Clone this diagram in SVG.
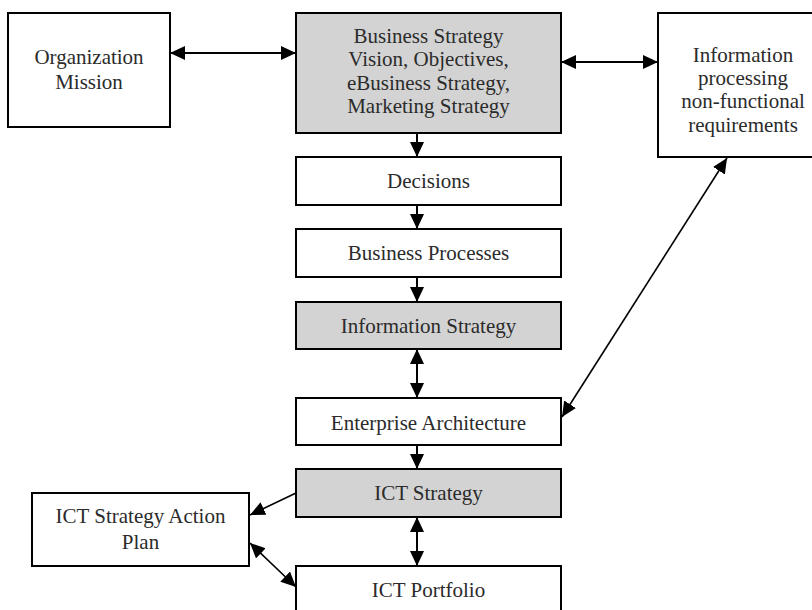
<svg xmlns="http://www.w3.org/2000/svg" width="812" height="610" viewBox="0 0 812 610">
<defs>
<style>
.box{fill:#ffffff;stroke:#000000;stroke-width:2}
.gray{fill:#d3d3d3;stroke:#000000;stroke-width:2}
.t{font-family:"Liberation Serif","Times New Roman",serif;font-size:21px;fill:#2b2b2b;text-anchor:middle}
.c{stroke:#000000;stroke-width:2;fill:none}
.d{stroke:#000000;stroke-width:1.6;fill:none}
</style>
<marker id="ah" markerUnits="userSpaceOnUse" markerWidth="15" markerHeight="15" viewBox="0 0 15 15" refX="15" refY="7" orient="auto-start-reverse">
<path d="M0,0 L15,7 L0,14 z" fill="#000000"/>
</marker>
</defs>
<rect width="812" height="610" fill="#ffffff"/>
<g id="connectors">
<line class="c" x1="170" y1="53" x2="296" y2="53" marker-start="url(#ah)" marker-end="url(#ah)"/>
<line class="c" x1="561" y1="62" x2="658" y2="62" marker-start="url(#ah)" marker-end="url(#ah)"/>
<line class="c" x1="417" y1="133" x2="417" y2="157" marker-end="url(#ah)"/>
<line class="c" x1="417" y1="205" x2="417" y2="229" marker-end="url(#ah)"/>
<line class="c" x1="417" y1="277" x2="417" y2="302" marker-end="url(#ah)"/>
<line class="c" x1="417" y1="349" x2="417" y2="398" marker-start="url(#ah)" marker-end="url(#ah)"/>
<line class="c" x1="417" y1="445" x2="417" y2="469" marker-end="url(#ah)"/>
<line class="c" x1="417" y1="517" x2="417" y2="566" marker-start="url(#ah)" marker-end="url(#ah)"/>
<line class="d" x1="727" y1="158" x2="562" y2="417" marker-start="url(#ah)" marker-end="url(#ah)"/>
<line class="d" x1="296" y1="493" x2="250" y2="515" marker-end="url(#ah)"/>
<line class="d" x1="250" y1="543" x2="296" y2="587" marker-start="url(#ah)" marker-end="url(#ah)"/>
</g>
<g id="org-mission">
<rect class="box" x="8" y="13" width="162" height="114"/>
<text class="t" x="89" y="64">Organization</text>
<text class="t" x="89" y="89">Mission</text>
</g>
<g id="business-strategy">
<rect class="gray" x="296" y="13" width="265" height="120"/>
<text class="t" x="428.5" y="43">Business Strategy</text>
<text class="t" x="428.5" y="66">Vision, Objectives,</text>
<text class="t" x="428.5" y="90">eBusiness Strategy,</text>
<text class="t" x="428.5" y="113">Marketing Strategy</text>
</g>
<g id="info-processing">
<rect class="box" x="658" y="13" width="180" height="144"/>
<text class="t" x="743" y="62">Information</text>
<text class="t" x="743" y="85">processing</text>
<text class="t" x="743" y="108">non-functional</text>
<text class="t" x="743" y="132">requirements</text>
</g>
<g id="decisions">
<rect class="box" x="296" y="157" width="265" height="48"/>
<text class="t" x="428.5" y="188">Decisions</text>
</g>
<g id="business-processes">
<rect class="box" x="296" y="229" width="265" height="48"/>
<text class="t" x="428.5" y="260">Business Processes</text>
</g>
<g id="information-strategy">
<rect class="gray" x="296" y="302" width="265" height="47"/>
<text class="t" x="428.5" y="333">Information Strategy</text>
</g>
<g id="enterprise-architecture">
<rect class="box" x="296" y="398" width="265" height="47"/>
<text class="t" x="428.5" y="430">Enterprise Architecture</text>
</g>
<g id="ict-strategy">
<rect class="gray" x="296" y="469" width="265" height="48"/>
<text class="t" x="428.5" y="500">ICT Strategy</text>
</g>
<g id="ict-action-plan">
<rect class="box" x="32" y="493" width="217" height="73"/>
<text class="t" x="140.5" y="523">ICT Strategy Action</text>
<text class="t" x="140.5" y="549">Plan</text>
</g>
<g id="ict-portfolio">
<rect class="box" x="296" y="566" width="265" height="60"/>
<text class="t" x="428.5" y="597">ICT Portfolio</text>
</g>
</svg>
